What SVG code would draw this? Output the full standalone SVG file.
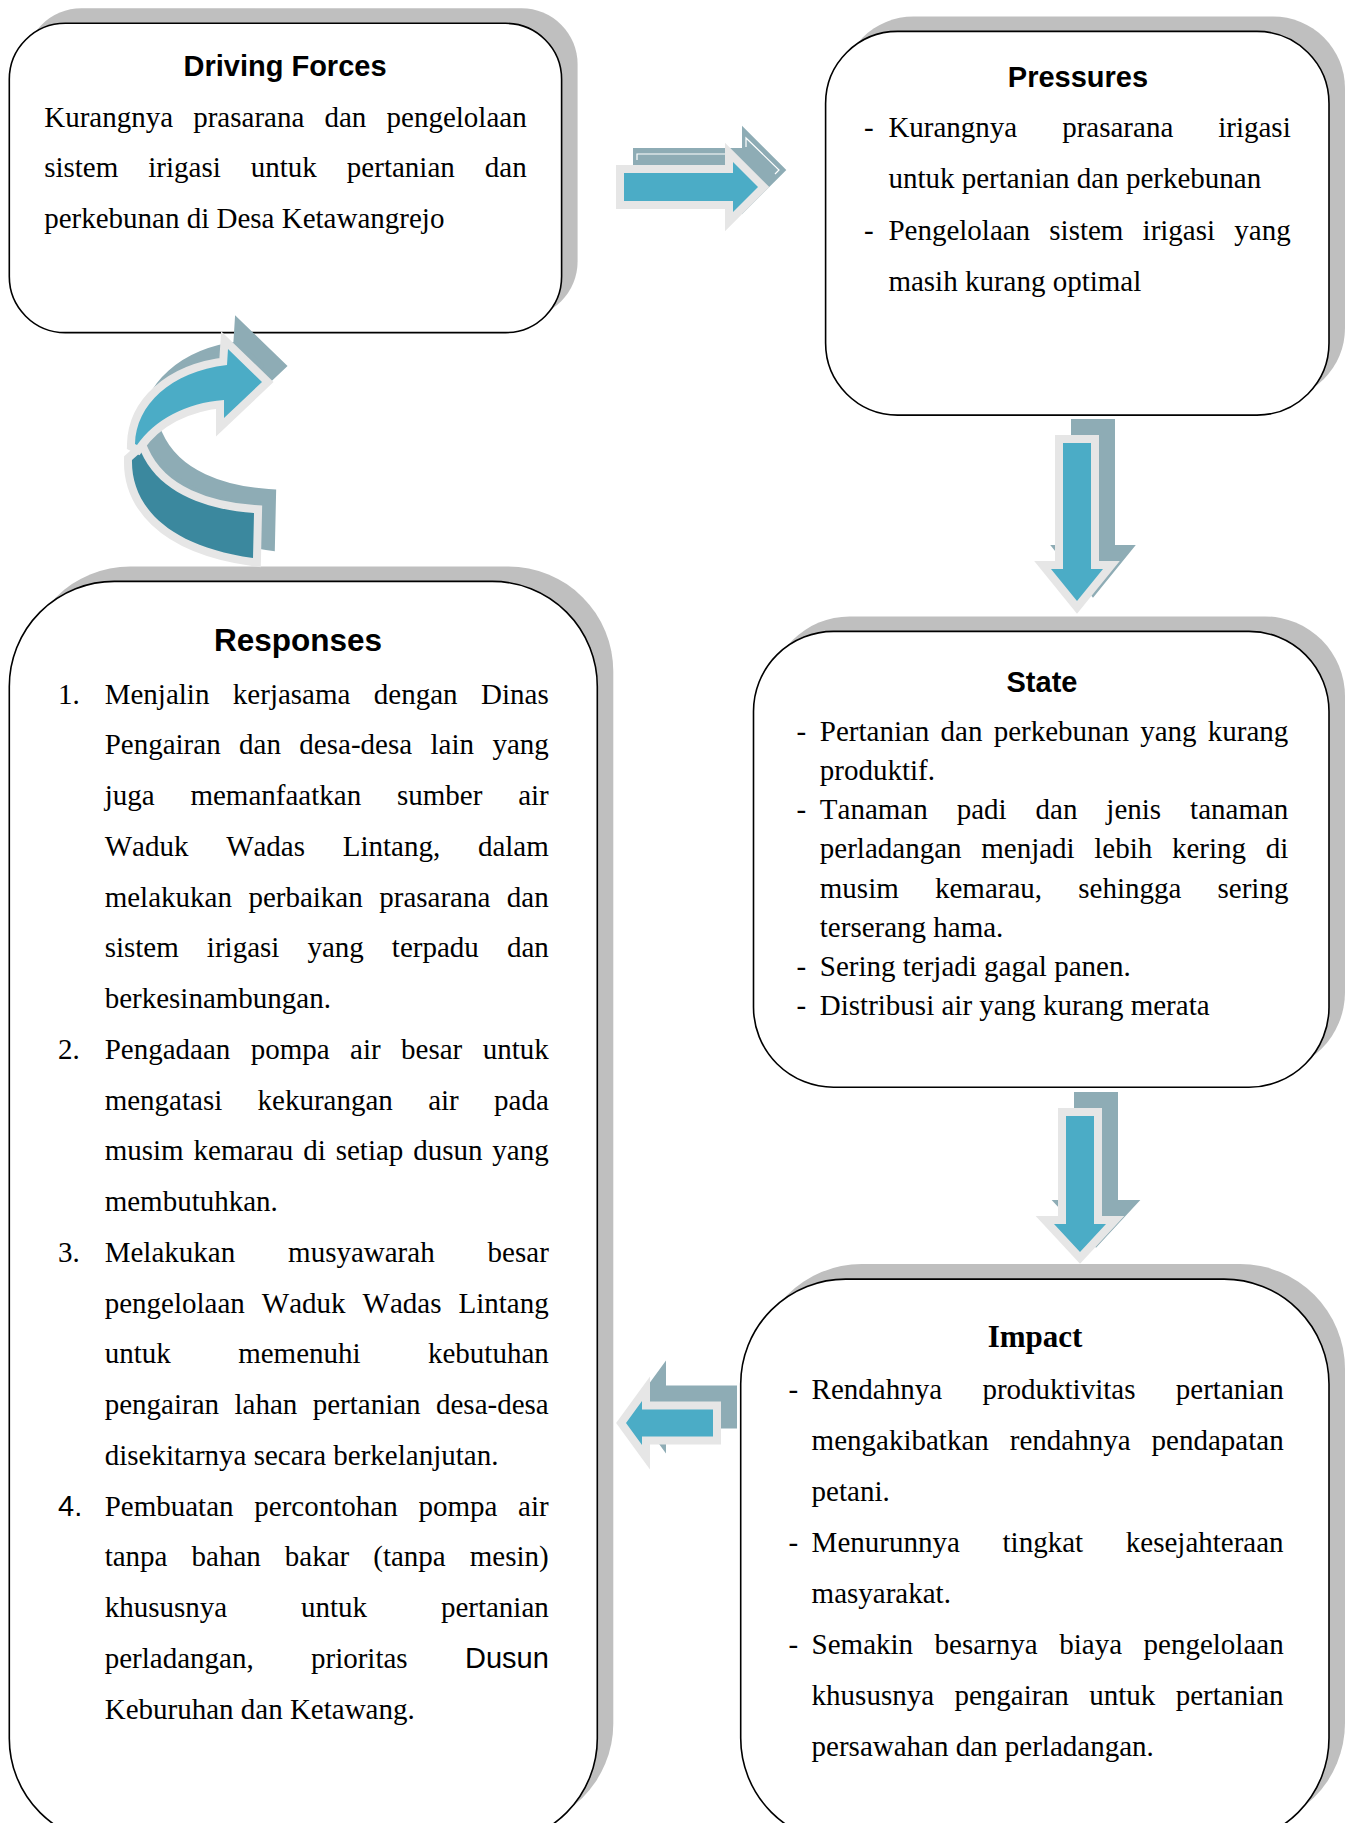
<svg xmlns="http://www.w3.org/2000/svg" width="1350" height="1823" viewBox="0 0 1350 1823">
  <style>
    text { font-kerning: none; }
    .sh { fill: #bfbfbf; }
    .bx { fill: #ffffff; stroke: #000000; stroke-width: 1.6; }
    .h  { font-family: "Liberation Sans", Arial, sans-serif; font-weight: bold; font-size: 29px; text-anchor: middle; fill: #000; }
    .hl2 { font-size: 31.5px; }
    .hs { font-family: "Liberation Serif", "Times New Roman", serif; font-weight: bold; font-size: 31px; text-anchor: middle; fill: #000; }
    .t  { font-family: "Liberation Serif", "Times New Roman", serif; font-size: 29px; fill: #000; }
    .ts { font-family: "Liberation Sans", Arial, sans-serif; }
    .ab { fill: #8eacb5; stroke: #8eacb5; stroke-width: 16; stroke-miterlimit: 10; }
    .af { fill: #4bacc6; stroke: #e6e6e6; stroke-width: 16; paint-order: stroke; stroke-miterlimit: 10; }
    .ad { fill: #3b889e; stroke: #e6e6e6; stroke-width: 16; paint-order: stroke; }
    .cb { fill: #8eacb5; stroke: #8eacb5; stroke-width: 16; }
    .cf { fill: #4bacc6; stroke: #e6e6e6; stroke-width: 16; paint-order: stroke; }
    .hl { fill: none; stroke: #ffffff; stroke-width: 1.2; }
  </style>

  <!-- Driving Forces -->
  <g id="driving-forces">
    <rect class="sh" x="25.3" y="8.3" width="552.3" height="309.3" rx="56"/>
    <rect class="bx" x="9.3" y="23.3" width="552.3" height="309.3" rx="56"/>
    <text class="h" x="285" y="75.6">Driving Forces</text>
    <text class="t" x="44.2" y="126.7" word-spacing="12.93">Kurangnya prasarana dan pengelolaan</text>
    <text class="t" x="44.2" y="177.3" word-spacing="22.76">sistem irigasi untuk pertanian dan</text>
    <text class="t" x="44.2" y="227.9">perkebunan di Desa Ketawangrejo</text>
  </g>

  <!-- Pressures -->
  <g id="pressures">
    <rect class="sh" x="841.6" y="16.4" width="503.4" height="383.7" rx="72"/>
    <rect class="bx" x="825.6" y="31.4" width="503.4" height="383.7" rx="72"/>
    <text class="h" x="1078" y="87.2">Pressures</text>
    <text class="t" x="864" y="137.2">-</text>
    <text class="t" x="888.4" y="137.2" word-spacing="37.7">Kurangnya prasarana irigasi</text>
    <text class="t" x="888.4" y="188.4">untuk pertanian dan perkebunan</text>
    <text class="t" x="864" y="239.5">-</text>
    <text class="t" x="888.4" y="239.5" word-spacing="11.93">Pengelolaan sistem irigasi yang</text>
    <text class="t" x="888.4" y="290.7">masih kurang optimal</text>
  </g>

  <!-- State -->
  <g id="state">
    <rect class="sh" x="769.5" y="616.4" width="575.5" height="455.8" rx="80"/>
    <rect class="bx" x="753.5" y="631.4" width="575.5" height="455.8" rx="80"/>
    <text class="h" x="1042" y="691.9">State</text>
    <text class="t" x="796.5" y="740.7">-</text>
    <text class="t" x="819.8" y="740.7" word-spacing="4.0">Pertanian dan perkebunan yang kurang</text>
    <text class="t" x="819.8" y="779.9">produktif.</text>
    <text class="t" x="796.5" y="819.1">-</text>
    <text class="t" x="819.8" y="819.1" word-spacing="21.71">Tanaman padi dan jenis tanaman</text>
    <text class="t" x="819.8" y="858.3" word-spacing="12.45">perladangan menjadi lebih kering di</text>
    <text class="t" x="819.8" y="897.5" word-spacing="28.95">musim kemarau, sehingga sering</text>
    <text class="t" x="819.8" y="936.7">terserang hama.</text>
    <text class="t" x="796.5" y="975.9">-</text>
    <text class="t" x="819.8" y="975.9">Sering terjadi gagal panen.</text>
    <text class="t" x="796.5" y="1015.1">-</text>
    <text class="t" x="819.8" y="1015.1">Distribusi air yang kurang merata</text>
  </g>

  <!-- Impact -->
  <g id="impact">
    <rect class="sh" x="756.7" y="1264.1" width="588.3" height="564" rx="105"/>
    <rect class="bx" x="740.7" y="1279.1" width="588.3" height="564" rx="105"/>
    <text class="hs" x="1035" y="1346.5">Impact</text>
    <text class="t" x="788.4" y="1398.8">-</text>
    <text class="t" x="811.6" y="1398.8" word-spacing="33.1">Rendahnya produktivitas pertanian</text>
    <text class="t" x="811.6" y="1449.8" word-spacing="13.8">mengakibatkan rendahnya pendapatan</text>
    <text class="t" x="811.6" y="1500.8">petani.</text>
    <text class="t" x="788.4" y="1551.8">-</text>
    <text class="t" x="811.6" y="1551.8" word-spacing="35.5">Menurunnya tingkat kesejahteraan</text>
    <text class="t" x="811.6" y="1602.8">masyarakat.</text>
    <text class="t" x="788.4" y="1653.8">-</text>
    <text class="t" x="811.6" y="1653.8" word-spacing="14.28">Semakin besarnya biaya pengelolaan</text>
    <text class="t" x="811.6" y="1704.8" word-spacing="13.18">khususnya pengairan untuk pertanian</text>
    <text class="t" x="811.6" y="1755.8">persawahan dan perladangan.</text>
  </g>

  <!-- Responses -->
  <g id="responses">
    <rect class="sh" x="25.3" y="566.4" width="588" height="1262" rx="105"/>
    <rect class="bx" x="9.3" y="581.4" width="588" height="1262" rx="105"/>
    <text class="h hl2" x="298" y="651.2">Responses</text>
    <text class="t" x="58.1" y="703.5">1.</text>
    <text class="t" x="104.7" y="703.5" word-spacing="16.22">Menjalin kerjasama dengan Dinas</text>
    <text class="t" x="104.7" y="754.25" word-spacing="11.17">Pengairan dan desa-desa lain yang</text>
    <text class="t" x="104.7" y="805" word-spacing="28.58">juga memanfaatkan sumber air</text>
    <text class="t" x="104.7" y="855.75" word-spacing="30.45">Waduk Wadas Lintang, dalam</text>
    <text class="t" x="104.7" y="906.5" word-spacing="9.25">melakukan perbaikan prasarana dan</text>
    <text class="t" x="104.7" y="957.25" word-spacing="20.82">sistem irigasi yang terpadu dan</text>
    <text class="t" x="104.7" y="1008">berkesinambungan.</text>
    <text class="t" x="58.1" y="1058.75">2.</text>
    <text class="t" x="104.7" y="1058.75" word-spacing="13.17">Pengadaan pompa air besar untuk</text>
    <text class="t" x="104.7" y="1109.5" word-spacing="28.05">mengatasi kekurangan air pada</text>
    <text class="t" x="104.7" y="1160.25" word-spacing="2.63">musim kemarau di setiap dusun yang</text>
    <text class="t" x="104.7" y="1211">membutuhkan.</text>
    <text class="t" x="58.1" y="1261.75">3.</text>
    <text class="t" x="104.7" y="1261.75" word-spacing="45.7">Melakukan musyawarah besar</text>
    <text class="t" x="104.7" y="1312.5" word-spacing="9.78">pengelolaan Waduk Wadas Lintang</text>
    <text class="t" x="104.7" y="1363.25" word-spacing="60.15">untuk memenuhi kebutuhan</text>
    <text class="t" x="104.7" y="1414" word-spacing="8.18">pengairan lahan pertanian desa-desa</text>
    <text class="t" x="104.7" y="1464.75">disekitarnya secara berkelanjutan.</text>
    <text class="t ts" x="58.1" y="1515.5">4.</text>
    <text class="t" x="104.7" y="1515.5" word-spacing="13.52">Pembuatan percontohan pompa air</text>
    <text class="t" x="104.7" y="1566.25" word-spacing="16.8">tanpa bahan bakar (tanpa mesin)</text>
    <text class="t" x="104.7" y="1617" word-spacing="66.6">khususnya untuk pertanian</text>
    <text class="t" x="104.7" y="1667.75" word-spacing="50.1">perladangan, prioritas <tspan class="ts">Dusun</tspan></text>
    <text class="t" x="104.7" y="1718.5">Keburuhan dan Ketawang.</text>
  </g>

  <!-- Connectors: layered block arrows -->
  <g id="connectors">
    <!-- Driving Forces to Pressures -->
    <g id="arrow-driving-pressures">
      <polygon class="ab" transform="translate(17,-17)" points="624,173 733,173 733,162 758,187 733,212 733,201 624,201"/>
      <polyline class="hl" points="637,160 637,154 728,154"/>
      <polyline class="hl" points="746,147 746,138 779,170 775,174"/>
      <polygon class="af" points="624,173 733,173 733,162 758,187 733,212 733,201 624,201"/>
    </g>
    <!-- Pressures to State -->
    <g id="arrow-pressures-state">
      <polygon class="ab" transform="translate(16,-16)" points="1063,443 1091,443 1091,569 1103,569 1077,601 1051,569 1063,569"/>
      <polygon class="af" points="1063,443 1091,443 1091,569 1103,569 1077,601 1051,569 1063,569"/>
    </g>
    <!-- State to Impact -->
    <g id="arrow-state-impact">
      <polygon class="ab" transform="translate(16,-16)" points="1066,1116 1094,1116 1094,1224 1106,1224 1080,1252 1054,1224 1066,1224"/>
      <polygon class="af" points="1066,1116 1094,1116 1094,1224 1106,1224 1080,1252 1054,1224 1066,1224"/>
    </g>
    <!-- Impact to Responses -->
    <g id="arrow-impact-responses">
      <polygon class="ab" transform="translate(16,-16)" points="713,1409.5 713,1436.5 642,1436.5 642,1445 626,1423 642,1401 642,1409.5"/>
      <polygon class="af" points="713,1409.5 713,1436.5 642,1436.5 642,1445 626,1423 642,1401 642,1409.5"/>
    </g>
    <!-- Responses back to Driving Forces -->
    <g id="arrow-responses-driving">
      <g transform="translate(14,-16)">
        <path class="cb" d="M132,460 C131,500 160,545 253,558 L254,513 C210,510 160,495 141,452 Z"/>
        <path class="cb" d="M135,444 C136,405 170,372 227,365 L228,349 L262,382 L224,418 L224,400 C185,403 155,420 137,445 Z"/>
      </g>
      <path class="ad" d="M132,460 C131,500 160,545 253,558 L254,513 C210,510 160,495 141,452 Z"/>
      <path class="cf" d="M135,444 C136,405 170,372 227,365 L228,349 L262,382 L224,418 L224,400 C185,403 155,420 137,445 Z"/>
    </g>
  </g>
</svg>
